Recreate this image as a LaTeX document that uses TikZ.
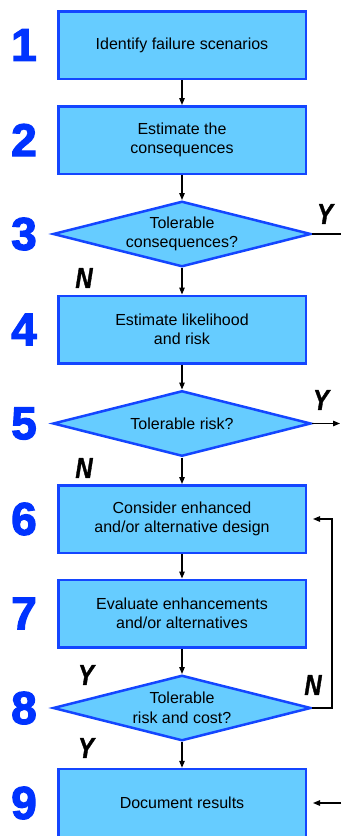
\documentclass[tikz,border=0pt]{standalone}
\usepackage{fontspec}
\setmainfont{Liberation Sans}
\newfontfamily\numfont{Liberation Sans Bold}[FakeBold=2.6]
\newfontfamily\ynfont{Liberation Sans Bold Italic}[FakeStretch=0.82,FakeBold=1.2]
\usetikzlibrary{shapes.geometric,arrows.meta}
\definecolor{boxfill}{RGB}{102,204,255}
\definecolor{boxline}{RGB}{20,70,255}
\definecolor{stepblue}{RGB}{0,51,255}
\begin{document}
\begin{tikzpicture}[x=1pt,y=-1pt,
  stepbox/.style={draw=boxline,fill=boxfill,line width=2.5pt,
    minimum width=247.5pt,minimum height=67.5pt,inner sep=0pt,
    align=center,font=\fontsize{16}{19.5}\selectfont},
  decision/.style={diamond,draw=boxline,fill=boxfill,line width=2.5pt,
    minimum width=258pt,minimum height=65.5pt,inner sep=0pt},
  dtext/.style={align=center,font=\fontsize{16}{19.5}\selectfont,inner sep=0pt},
  stepnum/.style={text=stepblue,font=\numfont\fontsize{46}{46}\selectfont,inner sep=0pt},
  yn/.style={font=\ynfont\fontsize{29}{29}\selectfont,inner sep=0pt},
  flow/.style={draw=black,line width=1.2pt},
  arr/.style={flow,-{Triangle[length=7pt,width=5.5pt]}}]
\clip (0,0) rectangle (341,836);
\fill[white] (0,0) rectangle (341,836);

% process steps and decisions
\node[stepbox] (b1) at (182,45) {Identify failure scenarios};
\node[stepbox] (b2) at (182,140) {Estimate the\\consequences};
\node[decision,label={[dtext]center:Tolerable\\consequences?}] (d3) at (182,234) {};
\node[stepbox] (b4) at (182,329.5) {Estimate likelihood\\and risk};
\node[decision,label={[dtext]center:Tolerable risk?}] (d5) at (182,423.5) {};
\node[stepbox] (b6) at (182,519) {Consider enhanced\\and/or alternative design};
\node[stepbox] (b7) at (182,613.5) {Evaluate enhancements\\and/or alternatives};
\node[decision,label={[dtext]center:Tolerable\\risk and cost?}] (d8) at (182,708) {};
\node[stepbox,minimum height=68pt] (b9) at (182,803) {Document results};

% step numbers
\node[stepnum] (n1) at (24,45) {1};
\node[stepnum] (n2) at (24,140) {2};
\node[stepnum] (n3) at (24,234) {3};
\node[stepnum] (n4) at (24,329.5) {4};
\node[stepnum] (n5) at (24,423.5) {5};
\node[stepnum] (n6) at (24,519) {6};
\node[stepnum] (n7) at (24,613.5) {7};
\node[stepnum] (n8) at (24,708) {8};
\node[stepnum] (n9) at (24,803) {9};

% main flow
\draw[arr] (b1) -- (b2);
\draw[arr] (b2) -- (d3);
\draw[arr] (d3) -- (b4);
\draw[arr] (b4) -- (d5);
\draw[arr] (d5) -- (b6);
\draw[arr] (b6) -- (b7);
\draw[arr] (b7) -- (d8);
\draw[arr] (d8) -- (b9);

% exits and loop back
\coordinate (out3) at (341,234);
\coordinate (out5) at (340,423.5);
\coordinate (loop) at (332,708);
\coordinate (in9) at (341,803);
\draw[flow] (d3.east) -- (out3);
\draw[arr] (d5.east) -- (out5);
\draw[arr,shorten >=6pt] (d8.east) -- (loop) |- (b6.east);
\draw[arr,shorten >=6pt] (in9) -- (b9.east);

% branch labels
\node[yn] (y3) at (325,214) {Y};
\node[yn] (n34) at (84,278) {N};
\node[yn] (y5) at (321,400) {Y};
\node[yn] (n56) at (84,468) {N};
\node[yn] (y8a) at (86,675) {Y};
\node[yn] (n8) at (313,685) {N};
\node[yn] (y8b) at (86,748) {Y};
\end{tikzpicture}
\end{document}
